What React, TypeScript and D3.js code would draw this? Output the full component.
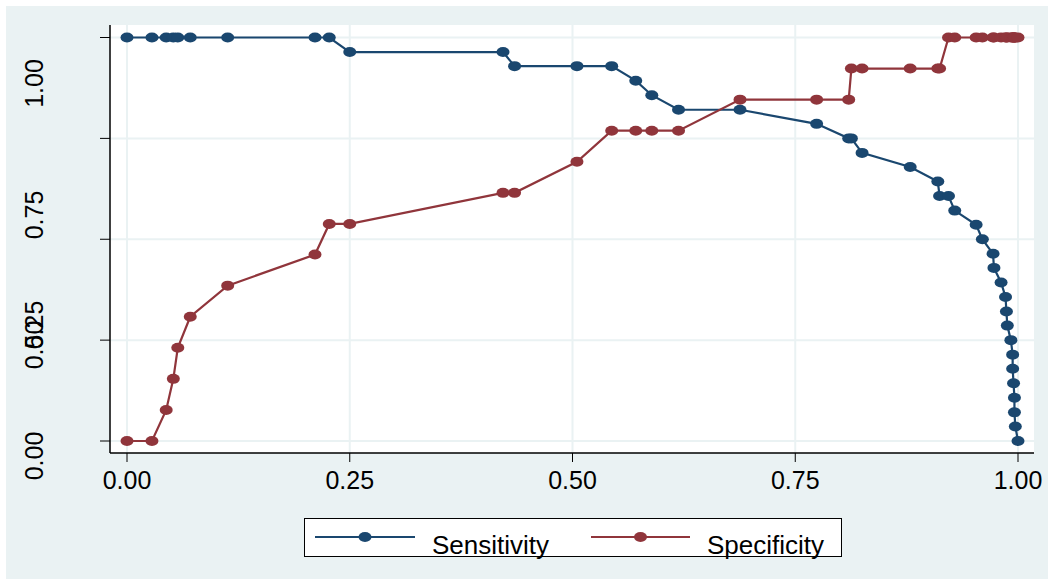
import React from "react";
import * as d3 from "d3";

// probability cutoffs and the sensitivity / specificity read at each one
const cutoffs = [
  0.0, 0.028, 0.044, 0.052, 0.057, 0.071, 0.113, 0.211, 0.227, 0.25, 0.422,
  0.435, 0.505, 0.544, 0.571, 0.589, 0.619, 0.688, 0.774, 0.81, 0.813, 0.825,
  0.879, 0.91, 0.912, 0.922, 0.929, 0.953, 0.96, 0.972, 0.973, 0.981, 0.986,
  0.987, 0.988, 0.992, 0.994, 0.994, 0.995, 0.996, 0.996, 0.997, 1.0,
];
const sensitivity = [
  1, 1, 1, 1, 1, 1, 1, 1, 1, 0.964, 0.964, 0.929, 0.929, 0.929, 0.893, 0.857,
  0.821, 0.821, 0.786, 0.75, 0.75, 0.714, 0.679, 0.643, 0.607, 0.607, 0.571,
  0.536, 0.5, 0.464, 0.429, 0.393, 0.357, 0.321, 0.286, 0.25, 0.214, 0.179,
  0.143, 0.107, 0.071, 0.036, 0,
];
const specificity = [
  0, 0, 0.077, 0.154, 0.231, 0.308, 0.385, 0.462, 0.538, 0.538, 0.615, 0.615,
  0.692, 0.769, 0.769, 0.769, 0.769, 0.846, 0.846, 0.846, 0.923, 0.923, 0.923,
  0.923, 0.923, 1, 1, 1, 1, 1, 1, 1, 1, 1, 1, 1, 1, 1, 1, 1, 1, 1, 1,
];
const xTicks = [0, 0.25, 0.5, 0.75, 1];
const yTicks = [0, 0.25, 0.5, 0.75, 1];
const xTickLabels = ["0.00", "0.25", "0.50", "0.75", "1.00"];
const yTickLabels = ["0.00", "0.25", "0.50", "0.75", "1.00"];
const seriesNames = ["Sensitivity", "Specificity"];

const W = 1048;
const H = 579;
const font = "'Liberation Sans', Arial, sans-serif";
const navy = "#1a476f";
const maroon = "#90353b";
const bg = "#eaf2f3";

export default function App() {
  const x = d3.scaleLinear().domain([0, 1]).range([127, 1018]);
  const y = d3.scaleLinear().domain([0, 1]).range([441, 37.5]);

  const series = [
    { name: seriesNames[0], color: navy, values: sensitivity },
    { name: seriesNames[1], color: maroon, values: specificity },
  ];

  const line = d3
    .line<number>()
    .x((_, i) => x(cutoffs[i]))
    .y((d) => y(d));

  // the y labels sit off their ticks in the original, so place them by hand
  const yLabelCenter = [456, 325, 345, 215, 83.5];

  const legendItems = [
    { x1: 315, x2: 415, tx: 432 },
    { x1: 591, x2: 690, tx: 707 },
  ];

  return (
    <svg
      width={W}
      height={H}
      style={{ position: "absolute", left: 0, top: 0, background: "#fff" }}
    >
      <rect x={6} y={6} width={W - 6} height={H - 6} fill={bg} />
      <rect x={110} y={25} width={924} height={428} fill="#fff" />

      {/* grid */}
      {xTicks.map((t) => (
        <line key={"gx" + t} x1={x(t)} x2={x(t)} y1={25} y2={453}
          stroke={bg} strokeWidth={2} />
      ))}
      {yTicks.map((t) => (
        <line key={"gy" + t} x1={110} x2={1034} y1={y(t)} y2={y(t)}
          stroke={bg} strokeWidth={2} />
      ))}

      {/* series */}
      {series.map((s) => (
        <g key={s.name}>
          <path d={line(s.values) || ""} fill="none" stroke={s.color}
            strokeWidth={2.2} />
          {s.values.map((v, i) => (
            <ellipse key={i} cx={x(cutoffs[i])} cy={y(v)} rx={6.5} ry={5}
              fill={s.color} />
          ))}
        </g>
      ))}

      {/* axes */}
      <line x1={110} x2={110} y1={25} y2={453} stroke="#000" strokeWidth={1.5} />
      <line x1={110} x2={1034} y1={453} y2={453} stroke="#000" strokeWidth={1.5} />
      {yTicks.map((t, i) => (
        <g key={"yt" + t}>
          <line x1={100} x2={110} y1={y(t)} y2={y(t)} stroke="#000" />
          <text transform={`translate(43,${yLabelCenter[i]}) rotate(-90)`}
            textAnchor="middle" fontFamily={font} fontSize={25} fill="#000">
            {yTickLabels[i]}
          </text>
        </g>
      ))}
      {xTicks.map((t, i) => (
        <g key={"xt" + t}>
          <line x1={x(t)} x2={x(t)} y1={453} y2={462} stroke="#000" />
          <text x={x(t)} y={489} textAnchor="middle" fontFamily={font}
            fontSize={25} fill="#000">
            {xTickLabels[i]}
          </text>
        </g>
      ))}

      {/* legend */}
      <rect x={304.5} y={518.5} width={537} height={38} fill="#fff"
        stroke="#000" strokeWidth={1} />
      {series.map((s, i) => {
        const it = legendItems[i];
        return (
          <g key={"lg" + s.name}>
            <line x1={it.x1} x2={it.x2} y1={537} y2={537} stroke={s.color}
              strokeWidth={2.2} />
            <ellipse cx={(it.x1 + it.x2) / 2} cy={537} rx={6.5} ry={5}
              fill={s.color} />
            <text x={it.tx} y={554} fontFamily={font} fontSize={26} fill="#000">
              {s.name}
            </text>
          </g>
        );
      })}
    </svg>
  );
}
